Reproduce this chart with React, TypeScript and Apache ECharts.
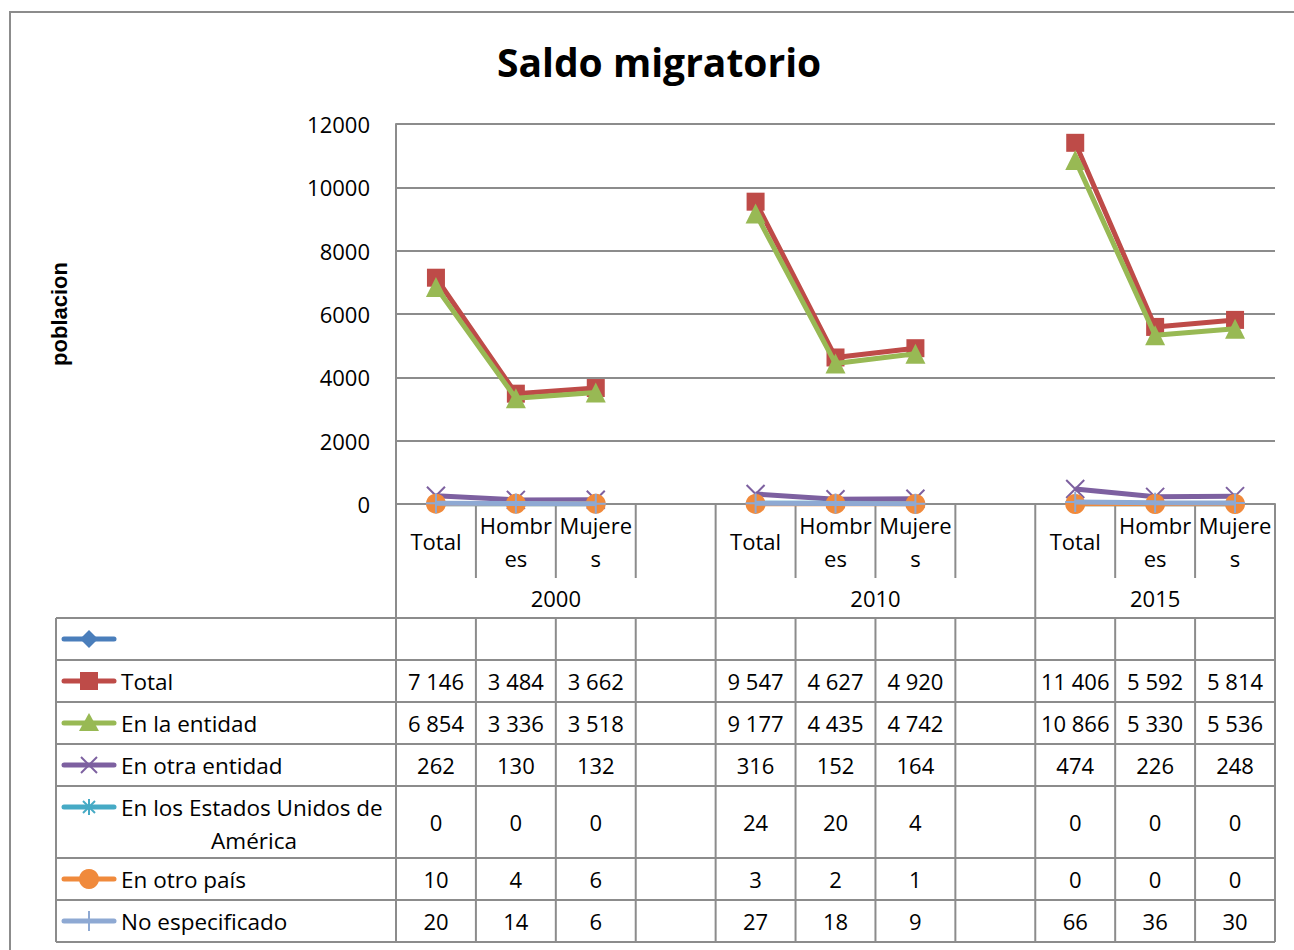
import React, { useEffect, useRef } from "react";
import * as echarts from "echarts";

const title = "Saldo migratorio";
const yAxisName = "poblacion";
const categories = ["Total", "Hombres", "Mujeres", "", "Total", "Hombres", "Mujeres", "", "Total", "Hombres", "Mujeres"];
const wrappedLabels: Record<string, string> = { Hombres: "Hombr\nes", Mujeres: "Mujere\ns" };
const years = ["2000", "2010", "2015"];
const yearSpans = [[0, 4], [4, 8], [8, 11]];
const yTicks = [0, 2000, 4000, 6000, 8000, 10000, 12000];

const seriesNames = ["", "Total", "En la entidad", "En otra entidad", "En los Estados Unidos de América", "En otro país", "No especificado"];
const serieBlank: (number | null)[] = [null, null, null, null, null, null, null, null, null, null, null];
const serieTotal = [7146, 3484, 3662, null, 9547, 4627, 4920, null, 11406, 5592, 5814];
const serieEntidad = [6854, 3336, 3518, null, 9177, 4435, 4742, null, 10866, 5330, 5536];
const serieOtraEntidad = [262, 130, 132, null, 316, 152, 164, null, 474, 226, 248];
const serieEEUU = [0, 0, 0, null, 24, 20, 4, null, 0, 0, 0];
const serieOtroPais = [10, 4, 6, null, 3, 2, 1, null, 0, 0, 0];
const serieNoEsp = [20, 14, 6, null, 27, 18, 9, null, 66, 36, 30];
const seriesData = [serieBlank, serieTotal, serieEntidad, serieOtraEntidad, serieEEUU, serieOtroPais, serieNoEsp];

const colors = ["#4A7EBB", "#BE4B48", "#98B954", "#7D60A0", "#46AAC5", "#F08A3C", "#8EA9D3"];
const symbols = [
  "diamond",
  "rect",
  "triangle",
  "path://M0,0L10,10M10,0L0,10",
  "path://M5,0L5,10M0,5L10,5M1.5,1.5L8.5,8.5M8.5,1.5L1.5,8.5",
  "circle",
  "path://M5,0L5,10M0,5L10,5",
];
const symbolSizes = [16, 18, 20, 18, 12, 20, 20];
const strokeSymbol = [false, false, false, true, true, false, true];

const FONT = "'Open Sans', sans-serif";
const GRID = "#8c8c8c";

function fmt(v: number | null): string {
  if (v === null || v === undefined) return "";
  return String(v).replace(/\B(?=(\d{3})+(?!\d))/g, " ");
}

export default function App() {
  const ref = useRef<HTMLDivElement>(null);
  useEffect(() => {
    if (!ref.current) return;
    const chart = echarts.init(ref.current, null, { renderer: "svg" });
    const gridTop = 124;
    const gridBottomY = 504;
    chart.setOption({
      animation: false,
      backgroundColor: "#ffffff",
      title: {
        text: title,
        left: 492,
        top: 37,
        textStyle: { fontFamily: FONT, fontSize: 39, fontWeight: "bold", color: "#000" },
      },
      grid: { left: 396, right: 19, top: gridTop, height: gridBottomY - gridTop, containLabel: false },
      xAxis: {
        type: "category",
        data: categories,
        boundaryGap: true,
        axisLine: { show: true, lineStyle: { color: GRID, width: 2 } },
        axisTick: { show: false },
        axisLabel: {
          interval: 0,
          margin: 37,
          verticalAlign: "middle",
          fontFamily: FONT,
          fontSize: 22,
          lineHeight: 33,
          color: "#000",
          formatter: (v: string) => wrappedLabels[v] ?? v,
        },
      },
      yAxis: {
        type: "value",
        min: yTicks[0],
        max: yTicks[yTicks.length - 1],
        interval: yTicks[1] - yTicks[0],
        name: yAxisName,
        nameLocation: "middle",
        nameRotate: 90,
        nameGap: 326,
        nameTextStyle: { fontFamily: "'Liberation Sans', Arial, sans-serif", fontWeight: "bold", fontSize: 22, color: "#000" },
        axisLine: { show: true, lineStyle: { color: GRID, width: 2 } },
        axisTick: { show: false },
        splitLine: { show: true, lineStyle: { color: GRID, width: 2 } },
        axisLabel: { fontFamily: FONT, fontSize: 22, color: "#000", margin: 26, formatter: (v: number) => String(v) },
      },
      series: seriesData.map((d, i) => ({
        type: "line",
        name: seriesNames[i],
        data: d,
        connectNulls: false,
        symbol: symbols[i],
        symbolSize: symbolSizes[i],
        lineStyle: { color: colors[i], width: 5 },
        itemStyle: strokeSymbol[i]
          ? { color: colors[i], borderColor: colors[i], borderWidth: 2 }
          : { color: colors[i], borderWidth: 0 },
        z: 2 + i,
      })),
    });

    const centers = categories.map((_, i) => chart.convertToPixel({ xAxisIndex: 0 }, i) as number);
    const band = centers[1] - centers[0];
    const bounds = [...centers.map((c) => c - band / 2), centers[centers.length - 1] + band / 2];
    const tableLeft = 56;
    const catBottom = 578;
    const tableTop = 618;
    const rowH = 42;
    const extra = 30;
    const rowTops: number[] = [tableTop];
    seriesNames.forEach((n, i) => {
      const h = i === 4 ? rowH + extra : rowH;
      rowTops.push(rowTops[i] + h);
    });
    const tableBottom = rowTops[rowTops.length - 1];
    const groupBounds = new Set<number>();
    yearSpans.forEach(([a, b]) => { groupBounds.add(a); groupBounds.add(b); });

    const g: any[] = [];
    const line = (x1: number, y1: number, x2: number, y2: number) =>
      g.push({ type: "line", shape: { x1, y1, x2, y2 }, style: { stroke: GRID, lineWidth: 2 }, silent: true });

    g.push({ type: "rect", shape: { x: 10, y: 12, width: 1300, height: 960 }, style: { fill: "none", stroke: GRID, lineWidth: 2 }, z: -1 });

    bounds.forEach((x, k) => {
      if (groupBounds.has(k)) line(x, gridBottomY, x, tableBottom);
      else { line(x, gridBottomY, x, catBottom); line(x, tableTop, x, tableBottom); }
    });
    line(tableLeft, tableTop, tableLeft, tableBottom);
    rowTops.forEach((y) => line(tableLeft, y, bounds[bounds.length - 1], y));

    yearSpans.forEach(([a, b], i) => {
      g.push({
        type: "text",
        x: (bounds[a] + bounds[b]) / 2,
        y: (catBottom + tableTop) / 2,
        style: { text: years[i], fontFamily: FONT, fontSize: 22, fill: "#000", textAlign: "center", textVerticalAlign: "middle" },
      });
    });

    const TS = 22.5;
    seriesNames.forEach((name, i) => {
      const top = rowTops[i];
      const mid = (rowTops[i] + rowTops[i + 1]) / 2;
      const ky = top + 21;
      const kx1 = 64, kx2 = 114, kc = 89;
      g.push({ type: "line", shape: { x1: kx1, y1: ky, x2: kx2, y2: ky }, style: { stroke: colors[i], lineWidth: 5, lineCap: "round" } });
      const c = colors[i];
      if (i === 0) g.push({ type: "polygon", shape: { points: [[kc, ky - 9], [kc + 9, ky], [kc, ky + 9], [kc - 9, ky]] }, style: { fill: c } });
      if (i === 1) g.push({ type: "rect", shape: { x: kc - 9, y: ky - 9, width: 18, height: 18 }, style: { fill: c } });
      if (i === 2) g.push({ type: "polygon", shape: { points: [[kc, ky - 10], [kc + 10, ky + 8], [kc - 10, ky + 8]] }, style: { fill: c } });
      if (i === 3) {
        g.push({ type: "line", shape: { x1: kc - 8, y1: ky - 8, x2: kc + 8, y2: ky + 8 }, style: { stroke: c, lineWidth: 2 } });
        g.push({ type: "line", shape: { x1: kc + 8, y1: ky - 8, x2: kc - 8, y2: ky + 8 }, style: { stroke: c, lineWidth: 2 } });
      }
      if (i === 4) {
        g.push({ type: "line", shape: { x1: kc, y1: ky - 8, x2: kc, y2: ky + 8 }, style: { stroke: c, lineWidth: 2 } });
        g.push({ type: "line", shape: { x1: kc - 6, y1: ky - 6, x2: kc + 6, y2: ky + 6 }, style: { stroke: c, lineWidth: 2 } });
        g.push({ type: "line", shape: { x1: kc + 6, y1: ky - 6, x2: kc - 6, y2: ky + 6 }, style: { stroke: c, lineWidth: 2 } });
      }
      if (i === 5) g.push({ type: "circle", shape: { cx: kc, cy: ky, r: 10 }, style: { fill: c } });
      if (i === 6) g.push({ type: "line", shape: { x1: kc, y1: ky - 10, x2: kc, y2: ky + 10 }, style: { stroke: c, lineWidth: 2 } });

      if (i === 4) {
        const parts = ["En los Estados Unidos de", "América"];
        g.push({ type: "text", x: 121, y: ky, style: { text: parts[0], fontFamily: FONT, fontSize: TS, fill: "#000", textAlign: "left", textVerticalAlign: "middle" } });
        g.push({ type: "text", x: 254, y: ky + 33, style: { text: parts[1], fontFamily: FONT, fontSize: TS, fill: "#000", textAlign: "center", textVerticalAlign: "middle" } });
      } else if (name) {
        g.push({ type: "text", x: 121, y: ky, style: { text: name, fontFamily: FONT, fontSize: TS, fill: "#000", textAlign: "left", textVerticalAlign: "middle" } });
      }
      seriesData[i].forEach((v, j) => {
        if (v === null) return;
        g.push({ type: "text", x: centers[j], y: mid, style: { text: fmt(v), fontFamily: FONT, fontSize: 22, fill: "#000", textAlign: "center", textVerticalAlign: "middle" } });
      });
    });

    chart.setOption({ graphic: g });
    return () => chart.dispose();
  }, []);
  return <div ref={ref} style={{ position: "absolute", left: 0, top: 0, width: 1294, height: 950 }} />;
}
